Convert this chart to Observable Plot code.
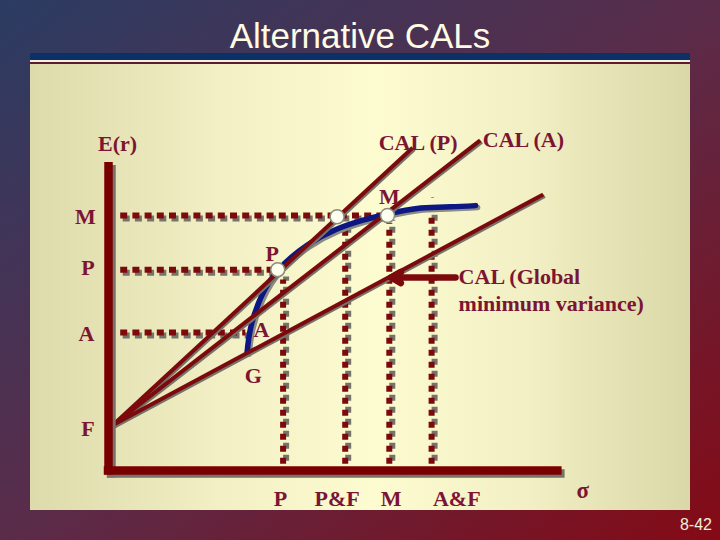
<!DOCTYPE html>
<html><head><meta charset="utf-8">
<script src="https://cdn.jsdelivr.net/npm/d3@7"></script>
<script src="https://cdn.jsdelivr.net/npm/@observablehq/plot@0.6"></script>
<style>
html,body{margin:0;padding:0;background:#4a2f50;}
#slide{position:relative;width:720px;height:540px;overflow:hidden;background:linear-gradient(to bottom right,#2b3c63 0%,#5a2c4a 50%,#840a15 100%);}
#title{position:absolute;left:0;width:720px;top:16px;text-align:center;font-family:"Liberation Sans",Arial,sans-serif;font-size:35px;line-height:40px;color:#fffbe4;}
#bar{position:absolute;left:30px;width:660px;top:53px;height:7px;background:#0b3166;}
#bar2{position:absolute;left:30px;width:660px;top:60px;height:2px;background:#f4f0e0;}
#bar3{position:absolute;left:30px;width:660px;top:62px;height:2px;background:#5e1c2c;}
#panel{position:absolute;left:30px;width:660px;top:64px;height:446px;background:linear-gradient(to right,#dddaab 0%,#f1efc3 28%,#fdfcd0 52%,#f1efc3 76%,#dad7a8 100%);}
#footer{position:absolute;right:8px;top:516px;font-family:"Liberation Sans",Arial,sans-serif;font-size:16px;line-height:18px;color:#f3efdc;}
#chart{position:absolute;left:0;top:0;}
</style>
</head><body>
<div id="slide">
  <div id="title">Alternative CALs</div>
  <div id="bar"></div><div id="bar2"></div><div id="bar3"></div>
  <div id="panel"></div>
  <div id="chart"></div>
  <div id="footer">8-42</div>
</div>
<script>
// Efficient frontier (sigma, E(r))
const frontierSigma = [15.4, 15.8, 16.9, 18.9, 22.1, 25.4, 28.2, 30.9, 34.7, 38.0, 40.8];
const frontierER    = [9.6, 11.6, 14.0, 16.3, 18.3, 19.6, 20.3, 20.8, 21.3, 21.4, 21.5];

// Risk-free point F and the three CALs
const riskFree = {sigma: 0.5, er: 3.7};
const calNames    = ["CAL (P)", "CAL (A)", "CAL (Global minimum variance)"];
const calEndSigma = [33.8, 41.3, 48.3];
const calEndER    = [26.2, 26.8, 22.4];

// Marked portfolios (open circles)
const pointNames = ["P", "P&F", "M"];
const pointSigma = [18.8, 25.4, 31.0];
const pointER    = [16.3, 20.6, 20.7];

// Horizontal dotted guides
const hGuideNames    = ["M", "P", "A"];
const hGuideER       = [20.7, 16.3, 11.2];
const hGuideEndSigma = [31.0, 18.8, 15.2];
const hGuideStart    = 1.3;

// Vertical dotted guides (drawn bottom to top)
const vGuideNames = ["P", "P&F", "M", "A&F"];
const vGuideSigma = [19.4, 26.3, 31.2, 35.9];
const vGuideTopER = [15.5, 19.8, 20.1, 20.6];
const vGuideBottom = 0.55;

// Axis tick-style labels
const yLabels      = ["M", "P", "A", "F"];
const yLabelSigma  = [-2.56, -2.28, -2.44, -2.28];
const yLabelER     = [20.6, 16.4, 11.1, 3.4];
const xLabels      = ["P", "P&F", "M", "A&F"];
const xLabelSigma  = [19.1, 25.4, 31.4, 38.7];
const xLabelER     = -2.3;

// Annotation labels
const noteText  = ["E(r)", "M", "P", "A", "G", "CAL (P)", "CAL (A)"];
const noteSigma = [1.0, 31.2, 18.2, 17.0, 16.1, 34.4, 46.1];
const noteER    = [26.5, 22.2, 17.6, 11.4, 7.7, 26.6, 26.8];
const gmvText   = ["CAL (Global", "minimum variance)"];
const gmvSigma  = [38.9, 38.9];
const gmvER     = [15.7, 13.5];
const sigmaLabel = {text: "σ", sigma: 52.7, er: -1.65};
const arrowFrom = {sigma: 38.56, er: 15.67};
const arrowTo   = {sigma: 31.4, er: 15.67};

const frontier = frontierSigma.map((s, i) => ({sigma: s, er: frontierER[i]}));
const cals = calNames.map((n, i) => ({name: n, x1: riskFree.sigma, y1: riskFree.er, x2: calEndSigma[i], y2: calEndER[i]}));
const points = pointNames.map((n, i) => ({name: n, sigma: pointSigma[i], er: pointER[i]}));
const hGuides = hGuideNames.map((n, i) => ({name: n, x1: hGuideStart, x2: hGuideEndSigma[i], y: hGuideER[i]}));
const vGuides = vGuideNames.map((n, i) => ({name: n, x: vGuideSigma[i], y1: vGuideBottom, y2: vGuideTopER[i]}));
const yLab = yLabels.map((t, i) => ({t, x: yLabelSigma[i], y: yLabelER[i]}));
const xLab = xLabels.map((t, i) => ({t, x: xLabelSigma[i], y: xLabelER}));
const notes = noteText.map((t, i) => ({t, x: noteSigma[i], y: noteER[i]}));
const gmvNotes = gmvText.map((t, i) => ({t, x: gmvSigma[i], y: gmvER[i]}));

const RED = "#7c0a0c", TXT = "#7c1434", SHADOW = "#75736a", NAVY = "#0c1783";
const serif = "Liberation Serif, Times New Roman, serif";
const txt = {fontFamily: serif, fontWeight: "bold", fontSize: 22, fill: TXT};

const chart = Plot.plot({
  width: 720, height: 540,
  marginTop: 162, marginBottom: 70, marginLeft: 108, marginRight: 162,
  x: {domain: [0, 50], axis: null},
  y: {domain: [0, 25], axis: null},
  style: {background: "transparent", overflow: "visible"},
  marks: [
    // dotted guides (shadow, then red)
    Plot.link(hGuides, {x1: "x1", x2: "x2", y1: "y", y2: "y", stroke: SHADOW, strokeWidth: 6, strokeDasharray: "7,5.2", dx: 2.5, dy: 3}),
    Plot.link(hGuides, {x1: "x1", x2: "x2", y1: "y", y2: "y", stroke: RED, strokeWidth: 6, strokeDasharray: "7,5.2"}),
    Plot.link(vGuides, {x1: "x", x2: "x", y1: "y1", y2: "y2", stroke: SHADOW, strokeWidth: 6, strokeDasharray: "6,6", dx: 3, dy: -3}),
    Plot.link(vGuides, {x1: "x", x2: "x", y1: "y1", y2: "y2", stroke: RED, strokeWidth: 6, strokeDasharray: "6,6"}),
    // frontier
    Plot.line(frontier, {x: "sigma", y: "er", curve: "natural", stroke: "#8a8a86", strokeWidth: 5.5, dx: 2, dy: 2}),
    Plot.line(frontier, {x: "sigma", y: "er", curve: "natural", stroke: NAVY, strokeWidth: 5.5}),
    // CAL lines
    Plot.link(cals, {x1: "x1", y1: "y1", x2: "x2", y2: "y2", stroke: SHADOW, strokeWidth: 4, dx: 1.5, dy: 1.5}),
    Plot.link(cals, {x1: "x1", y1: "y1", x2: "x2", y2: "y2", stroke: RED, strokeWidth: 4}),
    // axes
    Plot.ruleX([0], {y1: -0.37, y2: 25, stroke: SHADOW, strokeWidth: 8.5, dx: 3, dy: 3}),
    Plot.ruleY([0], {x1: -0.47, x2: 50.4, stroke: SHADOW, strokeWidth: 8.5, dx: 3, dy: 3}),
    Plot.ruleX([0], {y1: -0.37, y2: 25, stroke: "#7a0000", strokeWidth: 8.5}),
    Plot.ruleY([0], {x1: -0.47, x2: 50.4, stroke: "#7a0000", strokeWidth: 8.5}),
    // arrow to the GMV CAL
    Plot.arrow([{x1: arrowFrom.sigma, y1: arrowFrom.er, x2: arrowTo.sigma, y2: arrowTo.er}], {x1: "x1", y1: "y1", x2: "x2", y2: "y2", stroke: RED, strokeWidth: 6.5, headLength: 2.6, headAngle: 60}),
    // open circles
    Plot.dot(points, {x: "sigma", y: "er", r: 7, fill: "#fffff0", stroke: "#8d8b7c", strokeWidth: 1.5}),
    // labels
    Plot.text(yLab, {x: "x", y: "y", text: "t", ...txt}),
    Plot.text(xLab, {x: "x", y: "y", text: "t", ...txt}),
    Plot.text(notes, {x: "x", y: "y", text: "t", ...txt}),
    Plot.text(gmvNotes, {x: "x", y: "y", text: "t", textAnchor: "start", ...txt}),
    Plot.text([sigmaLabel], {x: "sigma", y: "er", text: "text", ...txt, fontSize: 23}),
    Plot.text(["-"], {x: [36.0], y: [22.2], fontFamily: serif, fontSize: 10, fill: "#7a7a70"})
  ]
});
document.getElementById("chart").appendChild(chart);
</script>
</body></html>
